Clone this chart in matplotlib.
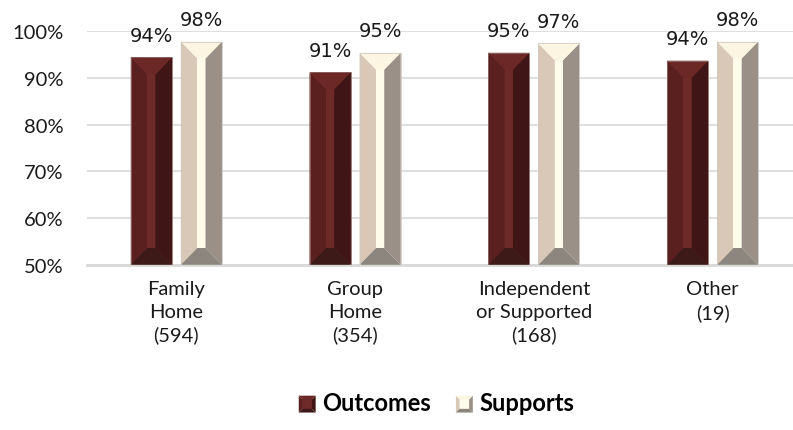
import matplotlib
matplotlib.use('Agg')
import matplotlib.pyplot as plt
from matplotlib.patches import Polygon, Rectangle
from matplotlib.legend_handler import HandlerBase
import numpy as np

# data
categories = ['Family\nHome\n(594)', 'Group\nHome\n(354)',
              'Independent\nor Supported\n(168)', 'Other\n(19)']
series = ['Outcomes', 'Supports']
outcomes = [94.4, 91.2, 95.4, 93.7]
supports = [97.8, 95.4, 97.4, 97.8]
yticks = [50, 60, 70, 80, 90, 100]

# bevel face colours: left, centre, right, top, bottom
outcome_cols = ['#5a1f1f', '#6e2a29', '#3f1615', '#6c2826', '#3d1a18']
support_cols = ['#d9c7b7', '#fffbea', '#9b9087', '#fcf5e2', '#8d867e']

plt.rcParams['font.family'] = ['Lato', 'DejaVu Sans']


def facets(x0, y0, w, h, bx, by):
    x1, y1 = x0 + w, y0 + h
    return [
        [(x0, y0), (x0, y1), (x0 + bx, y1 - by), (x0 + bx, y0 + by)],
        [(x0 + bx, y0 + by), (x0 + bx, y1 - by), (x1 - bx, y1 - by), (x1 - bx, y0 + by)],
        [(x1, y0), (x1, y1), (x1 - bx, y1 - by), (x1 - bx, y0 + by)],
        [(x0, y1), (x1, y1), (x1 - bx, y1 - by), (x0 + bx, y1 - by)],
        [(x0, y0), (x1, y0), (x1 - bx, y0 + by), (x0 + bx, y0 + by)],
    ]


class BevelHandler(HandlerBase):
    def __init__(self, cols):
        super().__init__()
        self.cols = cols

    def create_artists(self, legend, orig_handle, xdescent, ydescent,
                       width, height, fontsize, trans):
        s = min(width, height) * 0.8
        x0 = -xdescent + (width - s) / 2
        y0 = -ydescent + (height - s) / 2 - height * 0.08
        out = []
        for f, c in zip(facets(x0, y0, s, s, s * 0.22, s * 0.22), self.cols):
            out.append(Polygon(f, closed=True, facecolor=c, edgecolor='none',
                               transform=trans))
        return out


fig = plt.figure(figsize=(7.93, 4.31), dpi=100)
ax = fig.add_axes([87 / 793, 1 - 265.8 / 431, 706 / 793, (265.8 - 32.3) / 431])

x = np.arange(len(categories))
w = 0.23
off = 0.14
base = 50

for vals, cols, sgn, edge in [(outcomes, outcome_cols, -1, '#8c6a68'),
                              (supports, support_cols, 1, '#cfc9c3')]:
    bars = ax.bar(x + sgn * off, np.array(vals) - base, w, bottom=base,
                  color=cols[1], edgecolor='none', zorder=2)
    for b, v in zip(bars, vals):
        for f, c in zip(facets(b.get_x(), base, b.get_width(), b.get_height(),
                               b.get_width() * 0.4, 3.6), cols):
            ax.add_patch(Polygon(f, closed=True, facecolor=c, edgecolor='none',
                                 zorder=3))
        ax.add_patch(Rectangle((b.get_x(), base), b.get_width(), b.get_height(),
                               fill=False, edgecolor=edge, lw=0.6, zorder=4))
        ax.annotate(f'{v:.0f}%', (b.get_x() + b.get_width() / 2, v),
                    xytext=(0, 12), textcoords='offset points',
                    ha='center', va='baseline', fontsize=14,
                    family='DejaVu Sans', color='#1a1a1a', annotation_clip=False)

ax.set_xlim(-0.5, 3.45)
ax.set_ylim(50, 100)
ax.set_yticks(yticks)
ax.set_yticklabels([f'{t}%' for t in yticks])
ax.set_xticks(x)
ax.set_xticklabels(categories)
for lab in ax.get_xticklabels():
    lab.set_linespacing(1.4)
ax.tick_params(axis='y', length=0, pad=17, labelsize=14.5, labelcolor='#1a1a1a')
ax.tick_params(axis='x', length=0, pad=11, labelsize=14.5, labelcolor='#1a1a1a')
ax.yaxis.grid(True, color='#d9d9d9', lw=1.2)
ax.set_axisbelow(True)
for s in ['top', 'left', 'right']:
    ax.spines[s].set_visible(False)
ax.spines['bottom'].set_color('#d9d9d9')
ax.spines['bottom'].set_linewidth(2)

h1 = Rectangle((0, 0), 1, 1)
h2 = Rectangle((0, 0), 1, 1)
fig.legend([h1, h2], series, loc='center', bbox_to_anchor=(435 / 793, 1 - 404 / 431),
           ncols=2, frameon=False, handlelength=1.0, handleheight=1.0,
           handletextpad=0.15, columnspacing=0.9,
           prop={'weight': 'bold', 'size': 17},
           handler_map={h1: BevelHandler(outcome_cols), h2: BevelHandler(support_cols)})

fig.savefig('out.png', dpi=100)
